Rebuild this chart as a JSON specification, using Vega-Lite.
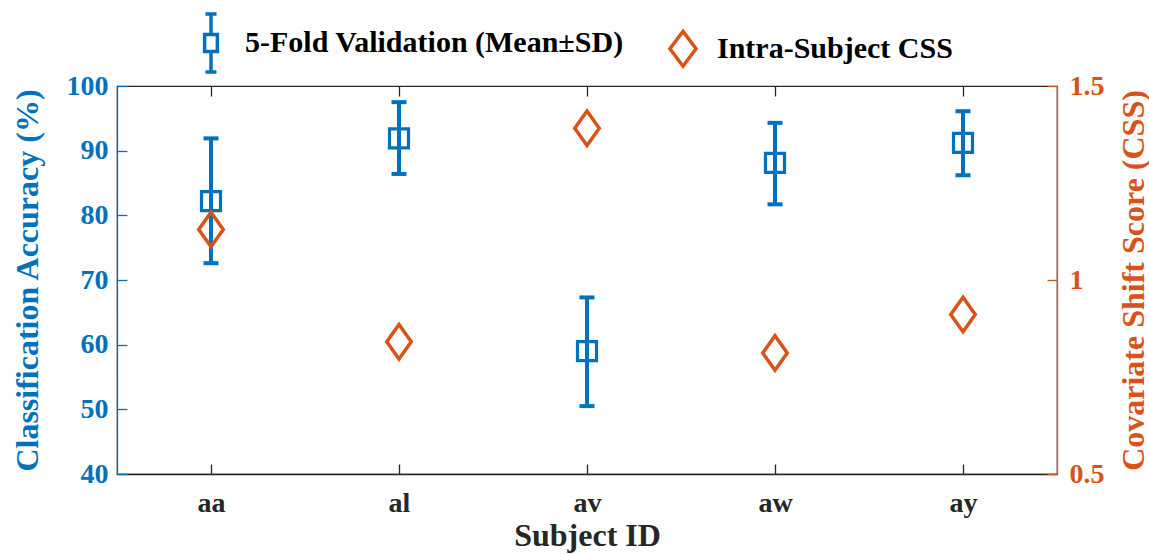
{
  "$schema": "https://vega.github.io/schema/vega-lite/v6.json",
  "width": 940,
  "height": 388,
  "autosize": {"type": "none"},
  "padding": {"left": 117, "top": 86, "right": 92, "bottom": 80},
  "background": "white",
  "config": {
    "view": {"stroke": "#262626", "strokeWidth": 1.2},
    "font": "Liberation Serif",
    "axis": {
      "labelFont": "Liberation Serif",
      "labelFontWeight": "bold",
      "titleFont": "Liberation Serif",
      "titleFontWeight": "bold",
      "grid": false,
      "labelFontSize": 28,
      "titleFontSize": 32,
      "tickSize": -10,
      "tickWidth": 1.3,
      "domainWidth": 1.3
    }
  },
  "datasets": {
    "acc": [
      {"subject": "aa", "mean": 82.2, "lo": 72.6, "hi": 91.9},
      {"subject": "al", "mean": 91.9, "lo": 86.4, "hi": 97.5},
      {"subject": "av", "mean": 59.0, "lo": 50.5, "hi": 67.3},
      {"subject": "aw", "mean": 88.1, "lo": 81.7, "hi": 94.3},
      {"subject": "ay", "mean": 91.2, "lo": 86.2, "hi": 96.1}
    ],
    "css": [
      {"subject": "aa", "css": 1.130},
      {"subject": "al", "css": 0.841},
      {"subject": "av", "css": 1.391},
      {"subject": "aw", "css": 0.812},
      {"subject": "ay", "css": 0.911}
    ],
    "leg": [
      {"series": "5-Fold Validation (Mean±SD)"},
      {"series": "Intra-Subject CSS"}
    ]
  },
  "layer": [
    {
      "data": {"name": "acc"},
      "layer": [
        {
          "mark": {"type": "rule", "color": "#0072BD", "strokeWidth": 4},
          "encoding": {
            "x": {
              "field": "subject", "type": "nominal", "sort": null,
              "scale": {"type": "point", "padding": 0.5},
              "axis": {
                "orient": "bottom", "labelAngle": 0, "title": "Subject ID",
                "labelColor": "#262626", "titleColor": "#262626",
                "domainColor": "#262626", "tickColor": "#262626",
                "labelPadding": 25, "titlePadding": 3
              }
            },
            "y": {
              "field": "lo", "type": "quantitative",
              "scale": {"domain": [40, 100], "nice": false, "zero": false},
              "axis": {
                "orient": "left", "values": [40, 50, 60, 70, 80, 90, 100],
                "title": "Classification Accuracy (%)",
                "domainColor": "#0072BD", "tickColor": "#0072BD",
                "labelColor": "#0072BD", "titleColor": "#0072BD",
                "labelPadding": 19, "titlePadding": 22
              }
            },
            "y2": {"field": "hi"}
          }
        },
        {
          "mark": {"type": "tick", "color": "#0072BD", "size": 15, "thickness": 4, "orient": "horizontal", "opacity": 1},
          "encoding": {
            "x": {"field": "subject", "type": "nominal", "sort": null},
            "y": {"field": "lo", "type": "quantitative"}
          }
        },
        {
          "mark": {"type": "tick", "color": "#0072BD", "size": 15, "thickness": 4, "orient": "horizontal", "opacity": 1},
          "encoding": {
            "x": {"field": "subject", "type": "nominal", "sort": null},
            "y": {"field": "hi", "type": "quantitative"}
          }
        },
        {
          "mark": {"type": "point", "shape": "square", "filled": false, "color": "#0072BD", "size": 361, "strokeWidth": 3.2, "opacity": 1},
          "encoding": {
            "x": {"field": "subject", "type": "nominal", "sort": null},
            "y": {"field": "mean", "type": "quantitative"}
          }
        }
      ]
    },
    {
      "data": {"name": "css"},
      "mark": {"type": "point", "shape": "M0,-1L0.71,0L0,1L-0.71,0Z", "filled": false, "color": "#D95319", "size": 1190, "strokeWidth": 3.5, "opacity": 1},
      "encoding": {
        "x": {
          "field": "subject", "type": "nominal", "sort": null,
          "axis": {"orient": "top", "labels": false, "title": null, "domain": false, "tickColor": "#262626"}
        },
        "y": {
          "field": "css", "type": "quantitative",
          "scale": {"domain": [0.5, 1.5], "nice": false, "zero": false},
          "axis": {
            "orient": "right", "values": [0.5, 1, 1.5], "format": "~g",
            "title": "Covariate Shift Score (CSS)", "titleAngle": 270, "titleBaseline": "top",
            "domainColor": "#D95319", "tickColor": "#D95319",
            "labelColor": "#D95319", "titleColor": "#D95319",
            "labelPadding": 22, "titlePadding": 14
          }
        }
      }
    },
    {
      "data": {"name": "leg"},
      "mark": {"type": "point", "filled": false, "opacity": 0},
      "encoding": {
        "color": {
          "field": "series", "type": "nominal", "sort": null,
          "scale": {"domain": ["5-Fold Validation (Mean±SD)", "Intra-Subject CSS"], "range": ["#0072BD", "#D95319"]},
          "legend": {
            "orient": "none", "legendX": 63, "legendY": -74, "direction": "horizontal",
            "title": null, "symbolSize": 3364, "symbolStrokeWidth": 3.5, "symbolOpacity": 1,
            "labelFont": "Liberation Serif", "labelFontWeight": "bold", "labelFontSize": 30, "labelLimit": 0,
            "labelColor": "black", "labelOffset": 3, "columnPadding": 28
          }
        },
        "shape": {
          "field": "series", "type": "nominal", "sort": null,
          "scale": {"domain": ["5-Fold Validation (Mean±SD)", "Intra-Subject CSS"], "range": ["M-0.19,-1H0.19M0,-1V-0.29M-0.22,-0.29H0.22V0.29H-0.22ZM0,0.29V1M-0.19,1H0.19", "M0,-0.6L0.45,0L0,0.6L-0.45,0Z"]},
          "legend": {
            "orient": "none", "legendX": 63, "legendY": -74, "direction": "horizontal",
            "title": null, "symbolSize": 3364, "symbolStrokeWidth": 3.5, "symbolOpacity": 1,
            "labelFont": "Liberation Serif", "labelFontWeight": "bold", "labelFontSize": 30, "labelLimit": 0,
            "labelColor": "black", "labelOffset": 3, "columnPadding": 28
          }
        }
      }
    }
  ],
  "resolve": {"scale": {"y": "independent"}, "axis": {"x": "independent"}}
}
